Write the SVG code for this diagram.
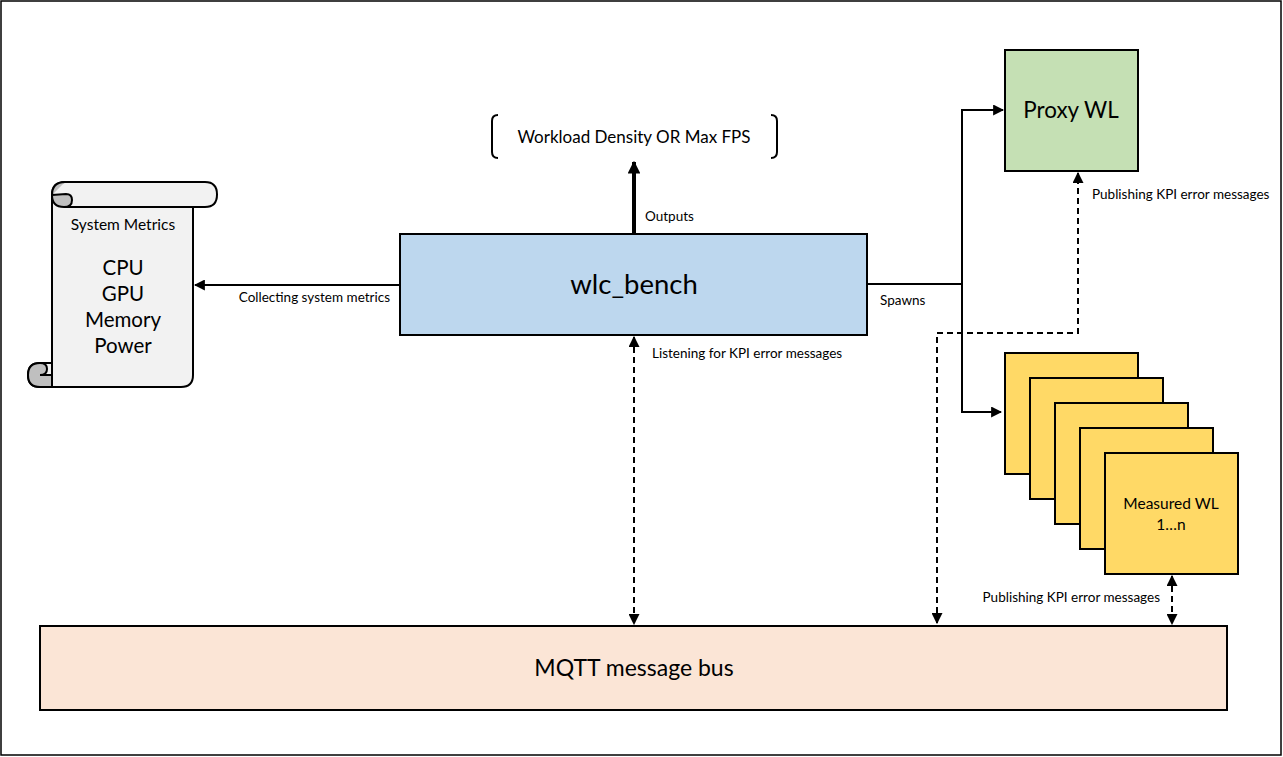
<svg xmlns="http://www.w3.org/2000/svg" width="1283" height="757" viewBox="0 0 1283 757">
<style>
text{font-family:Lato,"Open Sans","Liberation Sans",sans-serif;fill:#000}
.lbl{font-size:13.5px}
.box{stroke:#000;stroke-width:2}
.conn{fill:none;stroke:#000;stroke-width:2}
.dash{stroke-dasharray:6,4}
</style>
<defs>
<marker id="ah" viewBox="0 0 10 10" refX="9" refY="5" markerWidth="5.5" markerHeight="5.5" orient="auto-start-reverse" markerUnits="strokeWidth"><path d="M0,0L10,5L0,10z" fill="#000"/></marker>
<marker id="ahb" viewBox="0 0 10 10" refX="9" refY="5" markerWidth="3.2" markerHeight="3.2" orient="auto" markerUnits="strokeWidth"><path d="M0,0L10,5L0,10z" fill="#000"/></marker>
</defs>
<rect x="1" y="1" width="1280" height="754" fill="#fff" stroke="#000" stroke-width="1.5"/>

<g id="connectors">
<line x1="634" y1="234" x2="634" y2="162" style="fill:none;stroke:#000;stroke-width:4" marker-end="url(#ahb)"/>
<text class="lbl" x="645" y="221">Outputs</text>
<line class="conn" x1="400" y1="285" x2="195" y2="285" marker-end="url(#ah)"/>
<text class="lbl" x="390" y="302" text-anchor="end">Collecting system metrics</text>
<polyline class="conn" points="867,284 962,284 962,110 1003,110" marker-end="url(#ah)"/>
<polyline class="conn" points="962,284 962,412 1001,412" marker-end="url(#ah)"/>
<text class="lbl" x="880" y="305">Spawns</text>
<polyline class="conn dash" points="937,623 937,333 1078,333 1078,173" marker-start="url(#ah)" marker-end="url(#ah)"/>
<text class="lbl" x="1092" y="199">Publishing KPI error messages</text>
<line class="conn dash" x1="634" y1="337" x2="634" y2="624" marker-start="url(#ah)" marker-end="url(#ah)"/>
<text class="lbl" x="652" y="358">Listening for KPI error messages</text>
<line class="conn dash" x1="1172" y1="576" x2="1172" y2="624" marker-start="url(#ah)" marker-end="url(#ah)"/>
<text class="lbl" x="1160" y="602" text-anchor="end">Publishing KPI error messages</text>
</g>

<g id="output">
<path d="M498,115 Q492,115 492,121 L492,152 Q492,158 498,158" fill="none" stroke="#000" stroke-width="2"/>
<path d="M771,115 Q777,115 777,121 L777,152 Q777,158 771,158" fill="none" stroke="#000" stroke-width="2"/>
<text x="634" y="143" font-size="17" text-anchor="middle">Workload Density OR Max FPS</text>
</g>

<g id="wlc_bench">
<rect class="box" x="400" y="234" width="467" height="101" fill="#BDD7EE"/>
<text x="634" y="294" font-size="27.5" text-anchor="middle">wlc_bench</text>
</g>

<g id="system_metrics">
<path d="M52,195 Q52,182 65,182 L205,182 Q217,182 217,194.5 Q217,207 205,207 L193,207 L193,375 Q193,387 181,387 L40,387 Q28,387 28,375 Q28,363 40,363 L52,363 Z" fill="#F2F2F2" stroke="#000" stroke-width="2"/>
<path d="M65,182 Q52,182 52,195 Q52,207 64,207 Q72,207 72,200 Q72,194 66,194 L52,195" fill="#BFBFBF" stroke="#000" stroke-width="2"/>
<line x1="64" y1="207" x2="193" y2="207" stroke="#000" stroke-width="2"/>
<path d="M52,363 L52,387 L40,387 Q28,387 28,375 Q28,363 40,363 Q47,363 47,369 Q47,375 40,375 L52,375" fill="#BFBFBF" stroke="#000" stroke-width="2"/>
<text x="123" y="230" font-size="15.5" text-anchor="middle">System Metrics</text>
<text x="123" y="275" font-size="20.5" text-anchor="middle">CPU</text>
<text x="123" y="301" font-size="20.5" text-anchor="middle">GPU</text>
<text x="123" y="327" font-size="20.5" text-anchor="middle">Memory</text>
<text x="123" y="353" font-size="20.5" text-anchor="middle">Power</text>
</g>

<g id="proxy_wl">
<rect class="box" x="1005" y="50" width="133" height="121" fill="#C5E0B4"/>
<text x="1071" y="118" font-size="22.4" text-anchor="middle">Proxy WL</text>
</g>

<g id="measured_wl">
<rect class="box" x="1005" y="353" width="133" height="121" fill="#FFD966"/>
<rect class="box" x="1030" y="378" width="133" height="121" fill="#FFD966"/>
<rect class="box" x="1055" y="403" width="133" height="121" fill="#FFD966"/>
<rect class="box" x="1080" y="428" width="133" height="121" fill="#FFD966"/>
<rect class="box" x="1105" y="453" width="133" height="121" fill="#FFD966"/>
<text x="1171" y="509" font-size="15.5" text-anchor="middle">Measured WL</text>
<text x="1171" y="530" font-size="15.5" text-anchor="middle">1…n</text>
</g>

<g id="mqtt">
<rect class="box" x="40" y="626" width="1187" height="84" fill="#FBE5D6"/>
<text x="634" y="676" font-size="23" text-anchor="middle">MQTT message bus</text>
</g>
</svg>
